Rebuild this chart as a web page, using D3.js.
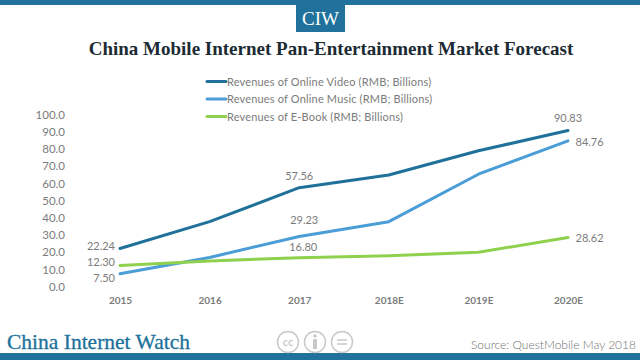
<!DOCTYPE html>
<html>
<head>
<meta charset="utf-8">
<script src="https://cdn.jsdelivr.net/npm/d3@7"></script>
<style>
html, body { margin: 0; padding: 0; background: #fff; }
svg { display: block; }
</style>
</head>
<body>
<div id="chart"></div>
<script>
const years = ["2015", "2016", "2017", "2018E", "2019E", "2020E"];
const yTicks = [0, 10, 20, 30, 40, 50, 60, 70, 80, 90, 100];
const video = [22.24, 37.8, 57.56, 64.9, 79, 90.83];
const music = [7.5, 17, 29.23, 37.8, 65.4, 84.76];
const ebook = [12.3, 15, 16.8, 18, 20, 28.62];
const seriesNames = [
	"Revenues of Online Video (RMB; Billions)",
	"Revenues of Online Music (RMB; Billions)",
	"Revenues of E-Book (RMB; Billions)"
];
const seriesColors = ["#1f7199", "#4a9dd6", "#8fd14f"];

const sans = "Lato, 'Open Sans', sans-serif";
const serif = "'Liberation Serif', serif";
const grey = "#7b7b7b";
const teal = "#20719b";

const svg = d3.select("#chart").append("svg")
	.attr("width", 640)
	.attr("height", 360);

// header and footer bars
svg.append("rect").attr("width", 640).attr("height", 5).attr("fill", teal);
svg.append("rect").attr("y", 353).attr("width", 640).attr("height", 7).attr("fill", teal);
svg.append("rect").attr("x", 296).attr("y", 5).attr("width", 49).attr("height", 27).attr("fill", teal);
svg.append("text").attr("x", 320.5).attr("y", 25)
	.attr("text-anchor", "middle")
	.style("font", "19px " + serif)
	.attr("fill", "#fff")
	.text("CIW");

svg.append("text").attr("x", 331).attr("y", 55)
	.attr("text-anchor", "middle")
	.style("font", "bold 19px " + serif)
	.attr("fill", "#1c2b33")
	.text("China Mobile Internet Pan-Entertainment Market Forecast");

const x = d3.scalePoint().domain(years).range([120, 568]);
const y = d3.scaleLinear().domain([0, 100]).range([286.7, 114.7]);

const yAxis = svg.append("g")
	.attr("transform", "translate(65,0)")
	.call(d3.axisLeft(y).tickValues(yTicks).tickFormat(d3.format(".1f")).tickSize(0).tickPadding(0));
yAxis.select(".domain").remove();
yAxis.selectAll("text")
	.style("font", "11.5px " + sans)
	.attr("fill", grey);

const xAxis = svg.append("g")
	.attr("transform", "translate(0,290.5)")
	.call(d3.axisBottom(x).tickSize(0).tickPadding(6));
xAxis.select(".domain").remove();
xAxis.selectAll("text")
	.style("font", "bold 10px " + sans)
	.attr("fill", grey);

const line = d3.line()
	.x((d, i) => x(years[i]))
	.y(d => y(d));

[video, music, ebook].forEach((vals, i) => {
	svg.append("path")
		.datum(vals)
		.attr("d", line)
		.attr("fill", "none")
		.attr("stroke", seriesColors[i])
		.attr("stroke-width", 3)
		.attr("stroke-linecap", "round")
		.attr("stroke-linejoin", "round");
});

// value labels: series, point index, offset from the point, anchor
const valueLabels = [
	[video, 0, -5, 1.5, "end"],
	[ebook, 0, -5, 0.5, "end"],
	[music, 0, -5, 8, "end"],
	[video, 2, 0, -8, "middle"],
	[music, 2, 5, -12, "middle"],
	[ebook, 2, 4, -7, "middle"],
	[video, 5, 0, -8.5, "middle"],
	[music, 5, 7.5, 5, "start"],
	[ebook, 5, 7.5, 5, "start"]
];
svg.selectAll(".value")
	.data(valueLabels)
	.enter()
	.append("text")
	.attr("class", "value")
	.attr("x", d => x(years[d[1]]) + d[2])
	.attr("y", d => y(d[0][d[1]]) + d[3])
	.attr("text-anchor", d => d[4])
	.style("font", "11px " + sans)
	.attr("fill", grey)
	.text(d => d[0][d[1]].toFixed(2));

// legend
const legendRow = d3.scaleOrdinal().domain(seriesNames).range([81.5, 99, 116.5]);
const legend = svg.selectAll(".legend")
	.data(seriesNames)
	.enter()
	.append("g")
	.attr("class", "legend")
	.attr("transform", d => "translate(0," + legendRow(d) + ")");
legend.append("line")
	.attr("x1", 207).attr("x2", 226)
	.attr("stroke", (d, i) => seriesColors[i])
	.attr("stroke-width", 3)
	.attr("stroke-linecap", "round");
legend.append("text")
	.attr("x", 227).attr("y", 4)
	.style("font", "11px " + sans)
	.style("letter-spacing", "0.17px")
	.attr("fill", grey)
	.text(d => d);

// footer
svg.append("text").attr("x", 7).attr("y", 349)
	.style("font", "21.5px " + serif)
	.attr("fill", teal)
	.attr("stroke", teal)
	.attr("stroke-width", 0.3)
	.text("China Internet Watch");
svg.append("text").attr("x", 636).attr("y", 349)
	.attr("text-anchor", "end")
	.style("font", "300 12px " + sans)
	.attr("fill", "#707070")
	.text("Source: QuestMobile May 2018");

// creative commons badges
const badges = svg.append("g").attr("fill", "none").attr("stroke", "#c9c9c9").attr("stroke-width", 1.5);
[288, 315, 342].forEach(cx => badges.append("circle").attr("cx", cx).attr("cy", 342).attr("r", 10.5));
svg.append("text").attr("x", 288).attr("y", 346)
	.attr("text-anchor", "middle")
	.style("font", "bold 11px " + sans)
	.attr("fill", "#c9c9c9")
	.text("cc");
svg.append("circle").attr("cx", 315).attr("cy", 336).attr("r", 1.8).attr("fill", "#c9c9c9");
svg.append("rect").attr("x", 313).attr("y", 339).attr("width", 4).attr("height", 10).attr("fill", "#c9c9c9");
[340, 344].forEach(ly => svg.append("rect").attr("x", 337).attr("y", ly - 0.75).attr("width", 10).attr("height", 1.5).attr("fill", "#c9c9c9"));
</script>
</body>
</html>
